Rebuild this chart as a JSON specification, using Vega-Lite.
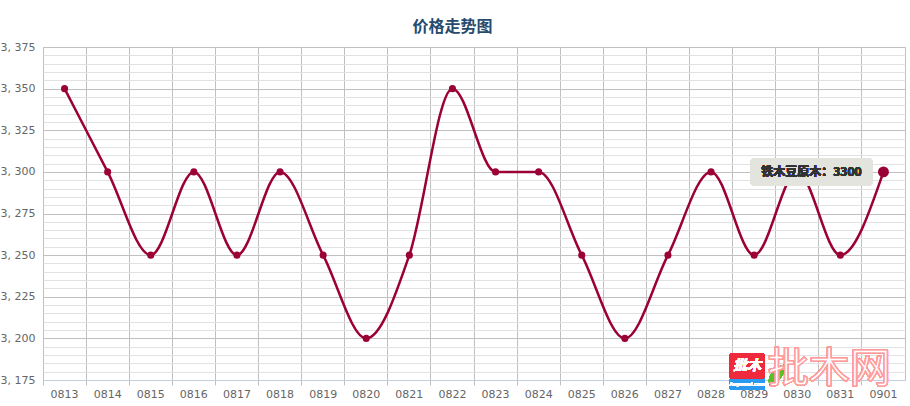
{
  "$schema": "https://vega.github.io/schema/vega-lite/v6.json",
  "width": 862,
  "height": 333,
  "autosize": {"type": "none"},
  "padding": {"left": 43, "top": 47, "right": 5, "bottom": 26},
  "background": "white",
  "title": {"text": "价格走势图", "anchor": "middle", "frame": "bounds", "font": "Noto Sans CJK SC", "fontSize": 16, "fontWeight": "bold", "color": "#274b6d", "offset": 6},
  "config": {"view": {"stroke": "#c0c0c0", "strokeWidth": 1}},
  "data": {"values": [
    {"date": "0813", "price": 3350},
    {"date": "0814", "price": 3300},
    {"date": "0815", "price": 3250},
    {"date": "0816", "price": 3300},
    {"date": "0817", "price": 3250},
    {"date": "0818", "price": 3300},
    {"date": "0819", "price": 3250},
    {"date": "0820", "price": 3200},
    {"date": "0821", "price": 3250},
    {"date": "0822", "price": 3350},
    {"date": "0823", "price": 3300},
    {"date": "0824", "price": 3300},
    {"date": "0825", "price": 3250},
    {"date": "0826", "price": 3200},
    {"date": "0827", "price": 3250},
    {"date": "0828", "price": 3300},
    {"date": "0829", "price": 3250},
    {"date": "0830", "price": 3300},
    {"date": "0831", "price": 3250},
    {"date": "0901", "price": 3300}
  ]},
  "encoding": {
    "x": {"field": "date", "type": "ordinal", "sort": null,
      "scale": {"type": "band", "paddingInner": 0, "paddingOuter": 0},
      "axis": {"title": null, "grid": true, "bandPosition": 0, "gridColor": "#c0c0c0", "gridWidth": 1, "tickColor": "#c0c0c0", "tickSize": 5, "domainColor": "#c0d0e0", "labelColor": "#666666", "labelFont": "DejaVu Sans", "labelFontSize": 11, "labelPadding": 3, "labelAngle": 0}},
    "y": {"field": "price", "type": "quantitative",
      "scale": {"domain": [3175, 3375], "nice": false, "zero": false},
      "axis": {"title": null, "values": [3175,3180,3185,3190,3195,3200,3205,3210,3215,3220,3225,3230,3235,3240,3245,3250,3255,3260,3265,3270,3275,3280,3285,3290,3295,3300,3305,3310,3315,3320,3325,3330,3335,3340,3345,3350,3355,3360,3365,3370,3375],
        "grid": true, "gridColor": {"condition": {"test": "datum.value % 25 === 0", "value": "#c0c0c0"}, "value": "#e2e2e2"},
        "ticks": false, "domain": false, "format": ",d", "labelOverlap": false,
        "labelExpr": "datum.value % 25 === 0 ? replace(datum.label, ',', ', ') : ''",
        "labelPadding": 8, "labelColor": "#666666", "labelFont": "DejaVu Sans", "labelFontSize": 11}}
  },
  "layer": [
    {"mark": {"type": "line", "interpolate": "monotone", "color": "#9b0036", "strokeWidth": 2.5}},
    {"mark": {"type": "point", "filled": true, "opacity": 1, "color": "#9b0036"},
     "encoding": {"size": {"condition": {"test": "datum.date === '0901'", "value": 120}, "value": 50}}},
    {"mark": {"type": "rect", "width": 122, "height": 28, "cornerRadius": 4, "fill": "#e4e4de", "opacity": 0.88, "xOffset": -72},
     "encoding": {"x": {"datum": "0901"}, "y": {"datum": 3300}}},
    {"mark": {"type": "text", "text": "铁木豆原木：3300", "font": "Noto Sans CJK SC", "fontWeight": "bold", "fontSize": 12, "fill": "#333333", "align": "center", "baseline": "middle", "xOffset": -72},
     "encoding": {"x": {"datum": "0901"}, "y": {"datum": 3300}}},
    {"mark": {"type": "rect", "width": 35, "height": 12, "cornerRadius": 2, "fill": "#2a9af0", "xOffset": -7},
     "encoding": {"x": {"datum": "0829"}, "y": {"datum": 3172.6}}},
    {"mark": {"type": "rect", "width": 35, "height": 25, "cornerRadius": 2, "fill": "#ee2a3c", "xOffset": -7},
     "encoding": {"x": {"datum": "0829"}, "y": {"datum": 3183.4}}},
    {"mark": {"type": "text", "text": "批木", "font": "Noto Sans CJK SC", "fontWeight": "bold", "fontStyle": "italic", "fontSize": 14, "fill": "white", "align": "center", "baseline": "middle", "xOffset": -7},
     "encoding": {"x": {"datum": "0829"}, "y": {"datum": 3183.4}}},
    {"mark": {"type": "text", "text": "Anywood.com", "font": "DejaVu Sans", "fontSize": 5, "fill": "white", "align": "center", "baseline": "middle", "xOffset": -7},
     "encoding": {"x": {"datum": "0829"}, "y": {"datum": 3172.6}}},
    {"mark": {"type": "point", "shape": "M -0.6 1 C -1 0 0 -0.8 0.8 -1 C 1 0 0 0.8 -0.6 1 Z", "filled": true, "opacity": 1, "size": 450, "color": "#5cbf2a", "xOffset": 22},
     "encoding": {"x": {"datum": "0829"}, "y": {"datum": 3178}}},
    {"mark": {"type": "text", "text": "批木网", "font": "Noto Sans CJK SC", "fontSize": 41, "fill": "white", "fillOpacity": 0.6, "stroke": "#ff9a9a", "strokeWidth": 1, "align": "center", "baseline": "middle", "xOffset": -11},
     "encoding": {"x": {"datum": "0831"}, "y": {"datum": 3181}}}
  ]
}
